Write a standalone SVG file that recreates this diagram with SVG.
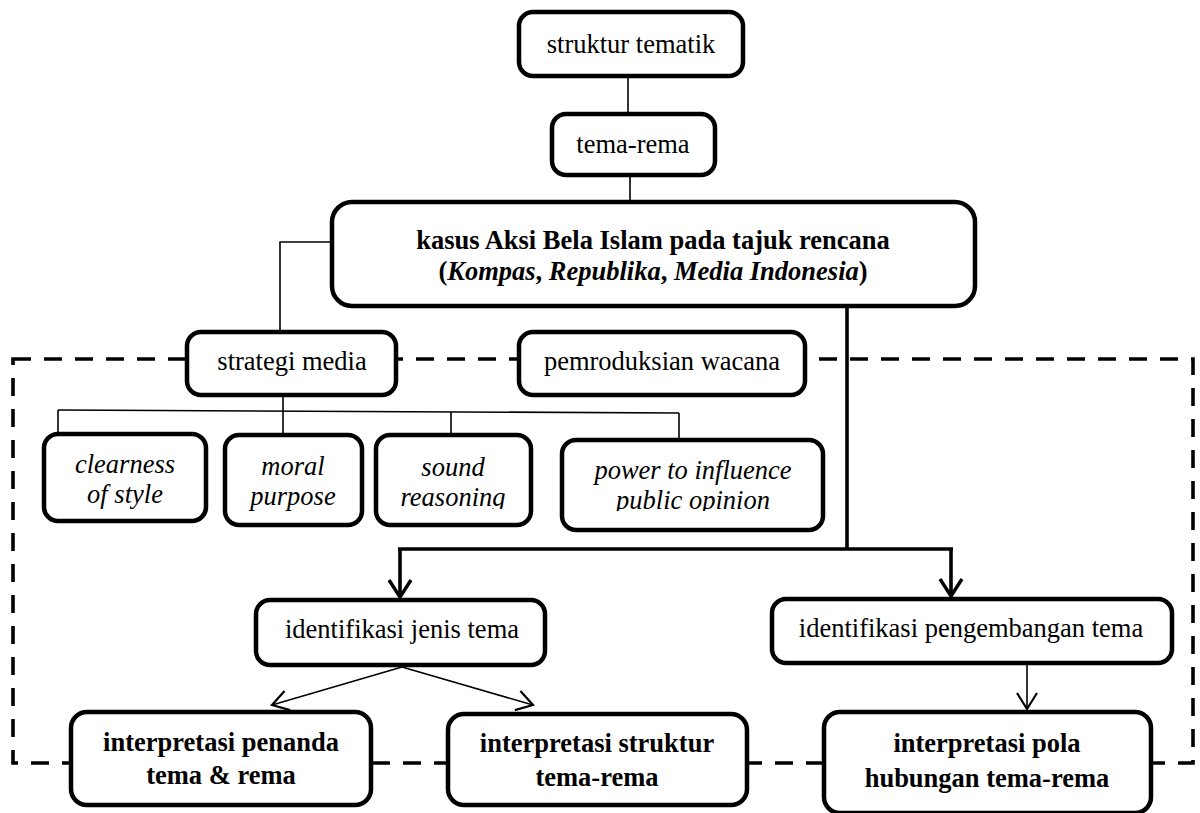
<svg xmlns="http://www.w3.org/2000/svg" width="1200" height="813" viewBox="0 0 1200 813">
<style>
  .box{fill:#fff;stroke:#000;stroke-width:4.5}
  .t{font-family:"Liberation Serif","Times New Roman",serif;font-size:26.5px;fill:#000;text-anchor:middle}
  .b{font-weight:bold}
  .i{font-style:italic}
  .thin{fill:none;stroke:#000;stroke-width:1.6}
  .thick{fill:none;stroke:#000;stroke-width:3.6}
  .dash{fill:none;stroke:#000;stroke-width:3.6;stroke-dasharray:18 13}
</style>
<defs>
  <marker id="arrThick" markerUnits="userSpaceOnUse" orient="auto" refX="0" refY="0" markerWidth="20" markerHeight="24" overflow="visible">
    <path d="M-17,-11 L0,0 L-17,11" fill="none" stroke="#000" stroke-width="3.4" stroke-linejoin="miter"/>
  </marker>
  <marker id="arrThin" markerUnits="userSpaceOnUse" orient="auto" refX="0" refY="0" markerWidth="20" markerHeight="24" overflow="visible">
    <path d="M-16,-10 L0,0 L-16,10" fill="none" stroke="#000" stroke-width="2.2" stroke-linejoin="miter"/>
  </marker>
  <clipPath id="clipSound"><rect x="370" y="430" width="170" height="79"/></clipPath>
  <clipPath id="clipPower"><rect x="556" y="434" width="275" height="77"/></clipPath>
</defs>
<rect width="1200" height="813" fill="#fff"/>

<g id="frame">
  <rect class="dash" x="13" y="359" width="1180" height="404"/>
</g>

<g id="connectors">
  <line class="thin" x1="628" y1="76" x2="628" y2="114"/>
  <line class="thin" x1="630" y1="175" x2="630" y2="202"/>
  <polyline class="thin" points="332,242 280,242 280,332"/>
  <line class="thin" x1="283" y1="395" x2="283" y2="435"/>
  <line class="thin" x1="58" y1="410" x2="679" y2="413"/>
  <line class="thin" x1="58" y1="410" x2="58" y2="434"/>
  <line class="thin" x1="451" y1="412" x2="451" y2="435"/>
  <line class="thin" x1="679" y1="413" x2="679" y2="440"/>
  <line class="thick" x1="847" y1="306" x2="847" y2="549"/>
  <line class="thick" x1="398" y1="549" x2="953" y2="549"/>
  <line class="thick" x1="400" y1="549" x2="400" y2="597" marker-end="url(#arrThick)"/>
  <line class="thick" x1="951" y1="549" x2="951" y2="596" marker-end="url(#arrThick)"/>
  <line class="thin" x1="402" y1="667" x2="272" y2="705" marker-end="url(#arrThin)"/>
  <line class="thin" x1="402" y1="667" x2="533" y2="705" marker-end="url(#arrThin)"/>
  <line class="thin" x1="1027" y1="663" x2="1027" y2="709" marker-end="url(#arrThin)"/>
</g>

<g id="struktur-tematik">
  <rect class="box" x="519" y="12" width="224" height="64" rx="14"/>
  <text class="t" x="631" y="53">struktur tematik</text>
</g>
<g id="tema-rema">
  <rect class="box" x="552" y="114" width="163" height="61" rx="14"/>
  <text class="t" x="633" y="153">tema-rema</text>
</g>
<g id="kasus">
  <rect class="box" x="332" y="202" width="643" height="104" rx="20"/>
  <text class="t b" x="653" y="249">kasus Aksi Bela Islam pada tajuk rencana</text>
  <text class="t b" x="653" y="280">(<tspan class="i">Kompas</tspan>, <tspan class="i">Republika</tspan>, <tspan class="i">Media Indonesia</tspan>)</text>
</g>
<g id="strategi-media">
  <rect class="box" x="187" y="332" width="209" height="63" rx="14"/>
  <text class="t" x="292" y="370">strategi media</text>
</g>
<g id="pemroduksian-wacana">
  <rect class="box" x="519" y="332" width="286" height="63" rx="14"/>
  <text class="t" x="662" y="370">pemroduksian wacana</text>
</g>
<g id="clearness">
  <rect class="box" x="44" y="434" width="162" height="87" rx="14"/>
  <text class="t i" x="125" y="473">clearness</text>
  <text class="t i" x="125" y="503">of style</text>
</g>
<g id="moral">
  <rect class="box" x="225" y="435" width="137" height="90" rx="14"/>
  <text class="t i" x="293" y="475">moral</text>
  <text class="t i" x="293" y="505">purpose</text>
</g>
<g id="sound">
  <rect class="box" x="376" y="435" width="155" height="90" rx="14"/>
  <g clip-path="url(#clipSound)">
    <text class="t i" x="453" y="476">sound</text>
    <text class="t i" x="453" y="506">reasoning</text>
  </g>
</g>
<g id="power">
  <rect class="box" x="562" y="440" width="261" height="90" rx="14"/>
  <g clip-path="url(#clipPower)">
    <text class="t i" x="693" y="479">power to influence</text>
    <text class="t i" x="693" y="509">public opinion</text>
  </g>
</g>
<g id="identifikasi-jenis">
  <rect class="box" x="256" y="600" width="289" height="65" rx="14"/>
  <text class="t" x="402" y="638">identifikasi jenis tema</text>
</g>
<g id="identifikasi-pengembangan">
  <rect class="box" x="772" y="599" width="400" height="64" rx="14"/>
  <text class="t" x="971" y="637">identifikasi pengembangan tema</text>
</g>
<g id="interpretasi-penanda">
  <rect class="box" x="71" y="712" width="300" height="93" rx="16"/>
  <text class="t b" x="221" y="751">interpretasi penanda</text>
  <text class="t b" x="221" y="784">tema &amp; rema</text>
</g>
<g id="interpretasi-struktur">
  <rect class="box" x="448" y="714" width="299" height="91" rx="16"/>
  <text class="t b" x="597" y="752">interpretasi struktur</text>
  <text class="t b" x="597" y="786">tema-rema</text>
</g>
<g id="interpretasi-pola">
  <rect class="box" x="824" y="712" width="327" height="101" rx="16"/>
  <text class="t b" x="987" y="752">interpretasi pola</text>
  <text class="t b" x="987" y="787">hubungan tema-rema</text>
</g>
</svg>
